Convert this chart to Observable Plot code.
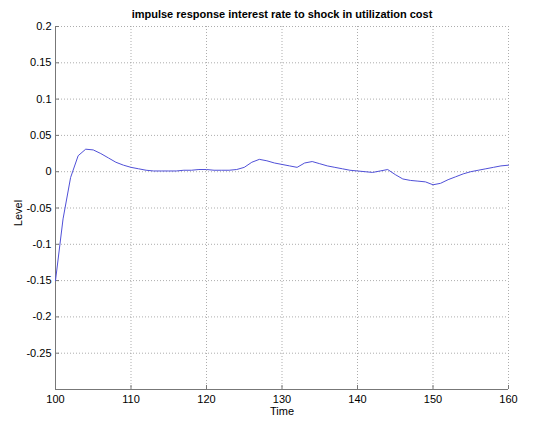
<!DOCTYPE html>
<html>
<head>
<meta charset="utf-8">
<script src="https://cdn.jsdelivr.net/npm/d3@7"></script>
<script src="https://cdn.jsdelivr.net/npm/@observablehq/plot@0.6"></script>
<style>
  html, body { margin: 0; padding: 0; background: #fff; }
  #chart svg { display: block; }
</style>
</head>
<body>
<div id="chart"></div>
<script>
const time = [100,101,102,103,104,105,106,107,108,109,110,111,112,113,114,115,116,117,118,119,120,121,122,123,124,125,126,127,128,129,130,131,132,133,134,135,136,137,138,139,140,141,142,143,144,145,146,147,148,149,150,151,152,153,154,155,156,157,158,159,160];
const level = [-0.15,-0.065,-0.008,0.022,0.031,0.030,0.025,0.019,0.013,0.009,0.006,0.004,0.002,0.001,0.001,0.001,0.001,0.002,0.002,0.003,0.003,0.002,0.002,0.002,0.003,0.006,0.013,0.017,0.015,0.012,0.010,0.008,0.006,0.012,0.014,0.011,0.008,0.006,0.004,0.002,0.001,0.000,-0.001,0.001,0.003,-0.004,-0.010,-0.012,-0.013,-0.014,-0.018,-0.016,-0.011,-0.007,-0.003,0.000,0.002,0.004,0.006,0.008,0.009];
const xTicks = [100,110,120,130,140,150,160];
const yTicks = [-0.25,-0.2,-0.15,-0.1,-0.05,0,0.05,0.1,0.15,0.2];
const titleText = "impulse response interest rate to shock in utilization cost";
const xLabel = "Time";
const yLabel = "Level";

const data = time.map((t, i) => ({t, v: level[i]}));
const fmt = d => String(+d.toFixed(2));

const chart = Plot.plot({
  width: 533,
  height: 423,
  marginLeft: 55,
  marginRight: 25,
  marginTop: 26,
  marginBottom: 34,
  style: {fontFamily: "'Liberation Sans', Arial, Helvetica, sans-serif", fontSize: "11px", background: "#fff", color: "#000"},
  x: {domain: [100, 160]},
  y: {domain: [-0.3, 0.2]},
  marks: [
    Plot.gridX(xTicks, {stroke: "#999", strokeOpacity: 0.8, strokeDasharray: "1,2"}),
    Plot.gridY(yTicks, {stroke: "#999", strokeOpacity: 0.8, strokeDasharray: "1,2"}),
    Plot.axisX(xTicks, {tickSize: -4, tickPadding: 10, tickFormat: d => String(d), stroke: "#777", label: null, fontSize: 11}),
    Plot.axisY(yTicks, {tickSize: -4, tickPadding: 8, tickFormat: fmt, stroke: "#777", label: null, fontSize: 11}),
    Plot.ruleX([100], {stroke: "#777"}),
    Plot.ruleY([-0.3], {stroke: "#777"}),
    Plot.line(data, {x: "t", y: "v", stroke: "#5050d8", strokeWidth: 1}),
    Plot.text([titleText], {frameAnchor: "top", dy: -12, fontWeight: "bold", fontSize: 11, lineAnchor: "middle"}),
    Plot.text([xLabel], {frameAnchor: "bottom", dy: 22, fontSize: 11, lineAnchor: "middle"}),
    Plot.text([yLabel], {frameAnchor: "left", textAnchor: "middle", dx: -37, dy: 5, rotate: -90, fontSize: 11, lineAnchor: "middle"})
  ]
});
document.getElementById("chart").appendChild(chart);
</script>
</body>
</html>
